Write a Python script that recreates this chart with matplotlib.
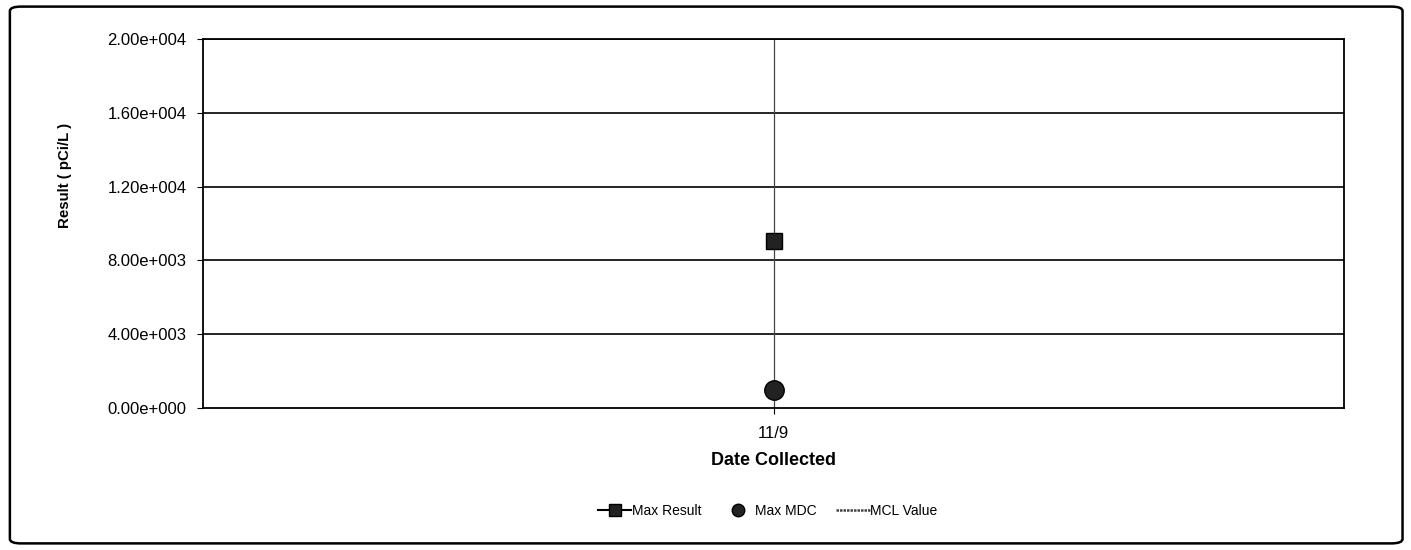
import matplotlib.pyplot as plt
from matplotlib.patches import FancyBboxPatch

plt.rcParams['font.family'] = ['Liberation Sans', 'DejaVu Sans']

# data
dates = ["11/9"]
max_result = [9050]
max_mdc = [1000]
y_ticks = [0, 4000, 8000, 12000, 16000, 20000]
y_tick_labels = ["0.00e+000", "4.00e+003", "8.00e+003", "1.20e+004", "1.60e+004", "2.00e+004"]

fig = plt.figure(figsize=(14.11, 5.5), dpi=100)
ax = fig.add_axes([0.1439, 0.258, 0.8086, 0.671])

x = list(range(len(dates)))

# outer rounded frame
frame = FancyBboxPatch((0.007, 0.012), 0.987, 0.976, boxstyle="round,pad=0,rounding_size=0.008",
                       transform=fig.transFigure, fill=False, edgecolor="black", linewidth=1.8)
fig.patches.append(frame)

for yt in y_ticks[1:]:
    ax.axhline(yt, color="black", linewidth=1.2, zorder=1)

# vertical line through the sample date
for xi in x:
    ax.axvline(xi, color="#444444", linewidth=0.9, zorder=2)

ax.plot(x, max_result, color="black", marker="s", markersize=12, linewidth=1.5,
        markerfacecolor="#222222", markeredgecolor="black", label="Max Result", zorder=3)
ax.plot(x, max_mdc, color="black", marker="o", markersize=14, linestyle="none",
        markerfacecolor="#222222", markeredgecolor="black", label="Max MDC", zorder=3)
ax.plot([], [], color="#444444", linewidth=1.8, linestyle=(0, (1, 0.4)), label="MCL Value")

ax.set_xlim(-1, 1)
ax.set_ylim(0, 20000)
ax.set_yticks(y_ticks)
ax.set_yticklabels(y_tick_labels, fontsize=12)
ax.set_xticks(x)
ax.set_xticklabels(dates, fontsize=12)
ax.tick_params(axis="y", length=4, width=0.8, pad=8)
ax.tick_params(axis="x", length=4, width=0.8, pad=9)

for s in ax.spines.values():
    s.set_linewidth(1.3)

ax.set_ylabel("Result ( pCi/L )", fontsize=10.8, fontweight="bold")
ax.yaxis.set_label_coords(-0.115, 0.63)
ax.set_xlabel("Date Collected", fontsize=13, fontweight="bold", labelpad=8)

leg = ax.legend(loc="upper center", bbox_to_anchor=(0.495, -0.225), ncol=3, frameon=False,
                fontsize=10, handlelength=2.4, handletextpad=0.05, columnspacing=1.4)
leg.legend_handles[0].set_markersize(8)
leg.legend_handles[1].set_markersize(9)

fig.savefig("out.png", dpi=100)
